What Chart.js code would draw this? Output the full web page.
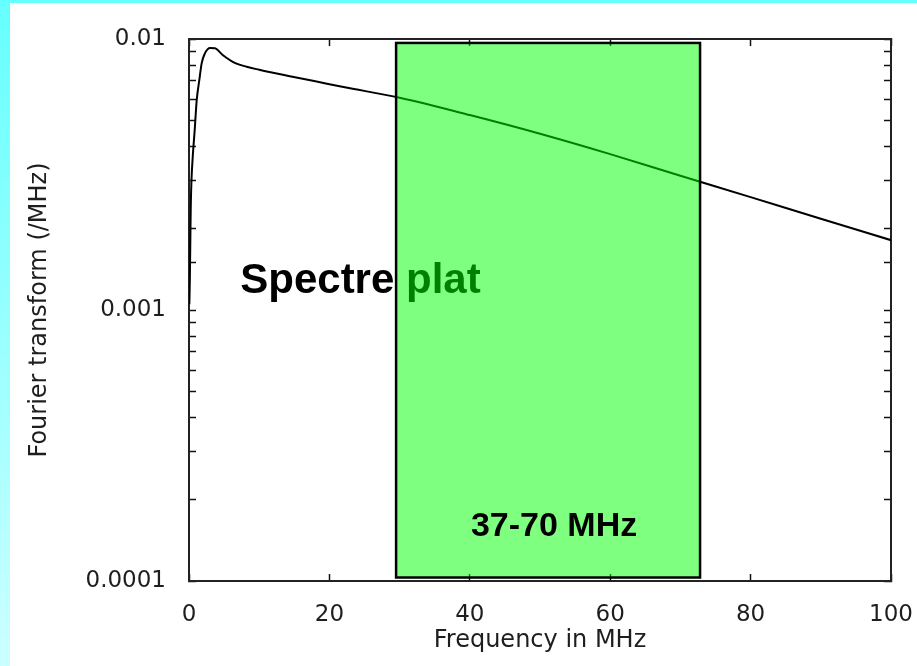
<!DOCTYPE html>
<html>
<head>
<meta charset="utf-8">
<script src="https://cdn.jsdelivr.net/npm/chart.js@4.4.1/dist/chart.umd.min.js"></script>
<style>
  html, body { margin: 0; padding: 0; background: #fff; }
  #wrap { position: relative; width: 917px; height: 666px; overflow: hidden; }
  #topStrip { position: absolute; left: 0; top: 0; width: 917px; height: 3px; background: #66ffff; }
  #leftStrip { position: absolute; left: 0; top: 0; width: 10px; height: 666px;
               background: linear-gradient(#66ffff, #ccffff); }
  canvas { position: absolute; left: 0; top: 0; }
</style>
</head>
<body>
<div id="wrap">
  <canvas id="spectrum" width="917" height="666"></canvas>
  <div id="topStrip"></div>
  <div id="leftStrip"></div>
</div>
<script>
// Spectrum data
const freqMHz = [0.05, 0.12, 0.2, 0.25, 0.35, 0.53, 0.81, 1.1, 1.47, 1.81, 2.28, 3.0, 3.7, 4.8, 6.3, 8.2,
                 10, 14, 18, 22, 30, 40, 50, 60, 70, 80, 90, 100];
const fourier = [0.00105, 0.0013, 0.0019, 0.0024, 0.003, 0.00367, 0.00461, 0.00595, 0.00706, 0.00815, 0.00887,
                 0.00927, 0.00924, 0.00873, 0.00822, 0.0079, 0.0077, 0.00732, 0.00698, 0.00665, 0.00607,
                 0.00524, 0.00447, 0.00376, 0.00313, 0.00261, 0.00217, 0.00181];

// Highlighted band (x range in MHz, y range in /MHz)
const band = [29.5, 72.8];
const bandY = [0.000103, 0.00967];

const xTicks = [0, 20, 40, 60, 80, 100];
const yTickLabels = ['0.0001', '0.001', '0.01'];

const axisFont = { family: 'DejaVu Sans', size: 23 };
const titleFont = { family: 'DejaVu Sans', size: 24, lineHeight: 1.2 };
const textColor = '#1e1e1e';

function decadeLabel(v) {
    const l = Math.log10(v);
    if (Math.abs(l - Math.round(l)) > 1e-9) return '';
    return yTickLabels.find(s => Math.abs(parseFloat(s) - v) < v * 1e-6) || '';
}

// overlay: texts + translucent band
const bandPlugin = {
    id: 'band',
    afterDatasetsDraw(chart) {
        const { ctx, scales: { x, y } } = chart;
        ctx.save();
        // text under the band
        ctx.fillStyle = '#000';
        ctx.font = 'bold 42px "Liberation Sans", Arial, sans-serif';
        ctx.textAlign = 'left';
        ctx.textBaseline = 'alphabetic';
        ctx.fillText('Spectre plat', x.getPixelForValue(7.3), y.getPixelForValue(0.00116));

        const x0 = x.getPixelForValue(band[0]), x1 = x.getPixelForValue(band[1]);
        const y0 = y.getPixelForValue(bandY[1]), y1 = y.getPixelForValue(bandY[0]);
        ctx.fillStyle = 'rgba(0,255,0,0.5)';
        ctx.fillRect(x0, y0, x1 - x0, y1 - y0);
        ctx.strokeStyle = '#000';
        ctx.lineWidth = 2.5;
        ctx.strokeRect(x0, y0, x1 - x0, y1 - y0);

        ctx.fillStyle = '#000';
        ctx.font = 'bold 34px "Liberation Sans", Arial, sans-serif';
        ctx.textAlign = 'center';
        ctx.fillText('37-70 MHz', x.getPixelForValue(52), y.getPixelForValue(0.000147));
        ctx.restore();
    }
};

const gridOpts = {
    drawOnChartArea: false,
    drawTicks: true,
    tickLength: -7,
    tickColor: '#111',
    tickWidth: 1.5
};
const borderOpts = { display: true, color: '#222', width: 2 };

// fixed box sizes so the plot area sits where it does in the picture
function fixBox(size, key) {
    return s => {
        s[key] = size;
        s.paddingLeft = 0; s.paddingRight = 0; s.paddingTop = 0; s.paddingBottom = 0;
    };
}

new Chart(document.getElementById('spectrum'), {
    type: 'line',
    data: {
        datasets: [{
            data: freqMHz.map((f, i) => ({ x: f, y: fourier[i] })),
            borderColor: '#000',
            borderWidth: 2,
            pointRadius: 0,
            cubicInterpolationMode: 'monotone',
            fill: false
        }]
    },
    options: {
        responsive: false,
        animation: false,
        layout: { padding: 0 },
        plugins: { legend: { display: false }, tooltip: { enabled: false } },
        scales: {
            x: {
                type: 'linear', position: 'bottom', min: 0, max: 100,
                afterBuildTicks: s => { s.ticks = xTicks.map(v => ({ value: v })); },
                ticks: { font: axisFont, color: textColor, padding: 27, maxRotation: 0,
                         callback: v => String(v) },
                grid: gridOpts, border: borderOpts,
                title: { display: true, text: 'Frequency in MHz', font: titleFont, color: textColor,
                         padding: { top: 0, bottom: 11 } },
                afterFit: fixBox(85, 'height')
            },
            x2: {
                type: 'linear', position: 'top', min: 0, max: 100,
                afterBuildTicks: s => { s.ticks = xTicks.map(v => ({ value: v })); },
                ticks: { display: false },
                grid: gridOpts, border: borderOpts,
                afterFit: fixBox(39, 'height')
            },
            y: {
                type: 'logarithmic', position: 'left', min: 0.0001, max: 0.01,
                ticks: { font: axisFont, color: textColor, padding: 30, autoSkip: false,
                         callback: v => decadeLabel(v) },
                grid: gridOpts, border: borderOpts,
                title: { display: true, text: 'Fourier transform (/MHz)', font: titleFont, color: textColor,
                         padding: { top: 25, bottom: 0 } },
                afterFit: fixBox(189, 'width')
            },
            y2: {
                type: 'logarithmic', position: 'right', min: 0.0001, max: 0.01,
                ticks: { display: false, autoSkip: false },
                grid: gridOpts, border: borderOpts,
                afterFit: fixBox(26, 'width')
            }
        }
    },
    plugins: [bandPlugin]
});
</script>
</body>
</html>
